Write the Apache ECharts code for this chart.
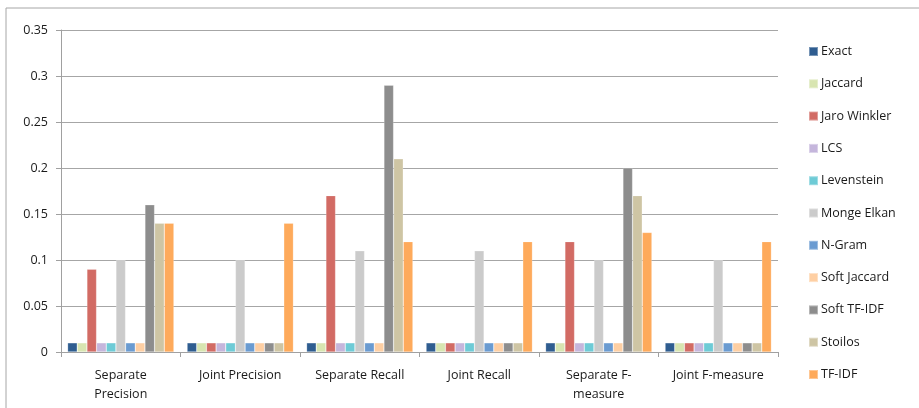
<!DOCTYPE html>
<html>
<head>
<meta charset="utf-8">
<script src="https://cdn.jsdelivr.net/npm/echarts@6/dist/echarts.min.js"></script>
<style>
  html, body { margin: 0; padding: 0; background: #fff; }
  #chart { width: 919px; height: 408px; }
</style>
</head>
<body>
<div id="chart"></div>
<script>
// Evaluation measures (x categories)
const categories = ['Separate\nPrecision', 'Joint Precision', 'Separate Recall', 'Joint Recall', 'Separate F-\nmeasure', 'Joint F-measure'];

// Scores per similarity measure, one value per category
const exact       = [0.01, 0.01, 0.01, 0.01, 0.01, 0.01];
const jaccard     = [0.01, 0.01, 0.01, 0.01, 0.01, 0.01];
const jaroWinkler = [0.09, 0.01, 0.17, 0.01, 0.12, 0.01];
const lcs         = [0.01, 0.01, 0.01, 0.01, 0.01, 0.01];
const levenstein  = [0.01, 0.01, 0.01, 0.01, 0.01, 0.01];
const mongeElkan  = [0.10, 0.10, 0.11, 0.11, 0.10, 0.10];
const nGram       = [0.01, 0.01, 0.01, 0.01, 0.01, 0.01];
const softJaccard = [0.01, 0.01, 0.01, 0.01, 0.01, 0.01];
const softTfIdf   = [0.16, 0.01, 0.29, 0.01, 0.20, 0.01];
const stoilos     = [0.14, 0.01, 0.21, 0.01, 0.17, 0.01];
const tfIdf       = [0.14, 0.14, 0.12, 0.12, 0.13, 0.12];

const yTicks = [0, 0.05, 0.1, 0.15, 0.2, 0.25, 0.3, 0.35];

const seriesDefs = [
  ['Exact', exact, '#2F5D90'],
  ['Jaccard', jaccard, '#D8E5B1'],
  ['Jaro Winkler', jaroWinkler, '#D26B64'],
  ['LCS', lcs, '#C5B6DC'],
  ['Levenstein', levenstein, '#6ECBD6'],
  ['Monge Elkan', mongeElkan, '#CBCBCB'],
  ['N-Gram', nGram, '#6A9BD1'],
  ['Soft Jaccard', softJaccard, '#FECFA3'],
  ['Soft TF-IDF', softTfIdf, '#8D8D8D'],
  ['Stoilos', stoilos, '#CEC5A4'],
  ['TF-IDF', tfIdf, '#FEAA5B']
];

const font = 'Open Sans';
const chart = echarts.init(document.getElementById('chart'), null, { renderer: 'canvas' });

chart.setOption({
  animation: false,
  backgroundColor: '#fff',
  graphic: [{
    type: 'rect',
    shape: { x: 6, y: 8, width: 1000, height: 500 },
    style: { fill: 'none', stroke: '#A6A6A6', lineWidth: 1 },
    silent: true,
    z: -1
  }],
  grid: { left: 61, right: 141, top: 30, bottom: 56, containLabel: false },
  legend: {
    orient: 'vertical',
    left: 803,
    top: 40,
    itemWidth: 9,
    itemHeight: 9,
    itemGap: 19.3,
    icon: 'rect',
    textStyle: { fontFamily: font, fontSize: 12.5, color: '#1a1a1a', padding: [0, 0, 0, -2] },
    data: seriesDefs.map(d => d[0])
  },
  xAxis: {
    type: 'category',
    data: categories,
    axisLine: { lineStyle: { color: '#A0A0A0', width: 1 } },
    axisTick: { show: true, length: 5, lineStyle: { color: '#A0A0A0' } },
    axisLabel: { fontFamily: font, fontSize: 12.5, color: '#1a1a1a', margin: 14, lineHeight: 19, interval: 0 }
  },
  yAxis: {
    type: 'value',
    min: 0,
    max: 0.35,
    interval: 0.05,
    axisLine: { show: true, lineStyle: { color: '#A0A0A0', width: 1 } },
    axisTick: { show: true, length: 5, lineStyle: { color: '#A0A0A0' } },
    splitLine: { lineStyle: { color: '#A6A6A6', width: 1.2 } },
    axisLabel: {
      fontFamily: font, fontSize: 12.5, color: '#1a1a1a', margin: 13,
      formatter: v => {
        const t = yTicks.find(x => Math.abs(x - v) < 1e-9);
        return t === undefined ? '' : String(t);
      }
    }
  },
  series: seriesDefs.map(([name, data, color]) => ({
    name,
    type: 'bar',
    data,
    barGap: '0%',
    barCategoryGap: '11%',
    itemStyle: { color, borderColor: 'rgba(255,255,255,0.35)', borderWidth: 0.6 }
  }))
});
</script>
</body>
</html>
